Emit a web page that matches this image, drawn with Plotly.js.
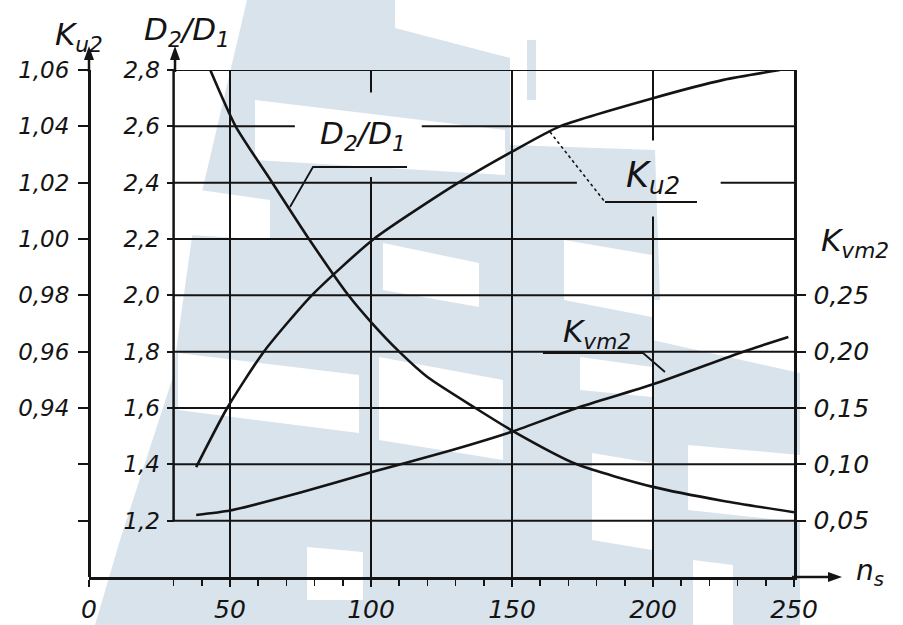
<!DOCTYPE html>
<html><head><meta charset="utf-8">
<script src="https://cdn.plot.ly/plotly-3.0.1.min.js"></script>
<style>html,body{margin:0;padding:0;background:#fff}</style>
</head><body><div id="chart" style="width:903px;height:625px"></div>
<script>
// ---- data ----
const nsD   = [43, 52, 65, 78, 92, 100, 110, 120, 137, 150, 173, 200, 225, 250];
const D2D1  = [2.80, 2.60, 2.40, 2.20, 2.00, 1.905, 1.80, 1.71, 1.60, 1.52, 1.40, 1.32, 1.27, 1.23];
const nsKu  = [38, 49, 62, 79, 101, 131, 150, 167, 200, 225, 245];
const Ku2   = [0.919, 0.94, 0.96, 0.98, 1.00, 1.02, 1.031, 1.04, 1.050, 1.0565, 1.06];
const nsKv  = [38, 50, 75, 100, 125, 150, 173, 200, 232, 248];
const Kvm2  = [0.055, 0.059, 0.075, 0.093, 0.110, 0.129, 0.150, 0.171, 0.200, 0.213];

const xTicks  = [0, 50, 100, 150, 200, 250];
const xMinor  = [30, 40, 60, 70, 80, 90, 110, 120, 130, 140, 160, 170, 180, 190, 210, 220, 230, 240];
const dTicks  = [1.2, 1.4, 1.6, 1.8, 2.0, 2.2, 2.4, 2.6, 2.8];
const kuTicks = [0.94, 0.96, 0.98, 1.00, 1.02, 1.04, 1.06];
const kuMinor = [0.90, 0.92];
const kvTicks = [0.05, 0.10, 0.15, 0.20, 0.25];
const gridX   = [50, 100, 150, 200];

// ---- styling ----
const W = 903, H = 625, L = 89, R = 109, T = 70, B = 48;
const pw = W - L - R, ph = H - T - B;
const px = x => (x - L) / pw, py = y => (H - B - y) / ph;
const ink = '#141414';
const F = s => ({family: 'DejaVu Sans', size: s, color: ink, style: 'italic'});
const comma = (v, d) => v.toFixed(d).replace('.', ',');

// gridline gaps (where hand-drawn lines were interrupted for labels)
const hSeg = {'2.6': [[30, 73], [118, 250]], '2.4': [[30, 173], [224, 250]]};
const vSeg = {'100': [[1.0, 2.42], [2.72, 2.8]], '200': [[1.0, 2.28], [2.55, 2.8]]};

const shapes = [];
const pathOf = (pts, close) => 'M' + pts.map(p => px(p[0]).toFixed(4) + ',' + py(p[1]).toFixed(4)).join('L') + (close ? 'Z' : '');
// watermark (light blue logo behind the scan)
const wm = '#d9e3ec';
const poly = (pts, color, layer) => shapes.push({
  type: 'path', xref: 'paper', yref: 'paper', layer: layer || 'below', fillcolor: color, line: {width: 0},
  path: pathOf(pts, true)
});
poly([[247,0],[395,0],[395,28],[510,58],[510,145],[655,150],[660,300],[800,300],[800,625],[95,625],[120,540],[172,380],[193,230]], wm);
poly([[527,40],[536,40],[536,100],[527,100]], wm);
const whites = [
  [[255,100],[505,130],[505,175],[255,160]],
  [[200,190],[270,200],[270,240],[190,235]],
  [[383,243],[479,263],[479,307],[383,290]],
  [[564,240],[652,255],[652,317],[564,300]],
  [[580,357],[652,367],[652,397],[580,390]],
  [[652,300],[800,300],[800,373],[652,340]],
  [[178,353],[359,375],[359,433],[178,410]],
  [[379,357],[503,380],[503,460],[379,440]],
  [[592,453],[652,463],[652,550],[592,540]],
  [[688,445],[800,455],[800,522],[688,510]],
  [[307,547],[363,552],[363,600],[307,600]],
  [[693,560],[733,565],[733,625],[693,625]]
];
whites.forEach(w => poly(w, '#ffffff'));

// grid
dTicks.forEach(d => {
  const segs = hSeg[d.toFixed(1)] || [[30, 250]];
  segs.forEach(s => shapes.push({type: 'line', xref: 'x', yref: 'y', x0: s[0], x1: s[1], y0: d, y1: d,
    layer: 'below', line: {color: ink, width: 2}}));
});
gridX.forEach(x => {
  const segs = vSeg[String(x)] || [[1.0, 2.8]];
  segs.forEach(s => shapes.push({type: 'line', xref: 'x', yref: 'y', x0: x, x1: x, y0: s[0], y1: s[1],
    layer: 'below', line: {color: ink, width: 2}}));
});
// D2/D1 axis line (from 1,2 upward)
shapes.push({type: 'line', xref: 'x', yref: 'y', x0: 30, x1: 30, y0: 1.2, y1: 2.8, layer: 'below', line: {color: ink, width: 2.5}});

// axis extensions with arrowheads (pixel layout helpers)
const seg = (pts, w, dash) => shapes.push({type: 'path', xref: 'paper', yref: 'paper', layer: 'above',
  line: {color: ink, width: w, dash: dash || 'solid'}, path: pathOf(pts, false)});
seg([[L, 72], [L, 52]], 2.5);
poly([[L, 46], [L - 5, 60], [L + 5, 60]], ink, 'above');
seg([[175, 72], [175, 52]], 2.5);
poly([[175, 46], [170, 60], [180, 60]], ink, 'above');
seg([[792, H - B], [832, H - B]], 2.5);
poly([[842, H - B], [828, H - B - 5], [828, H - B + 5]], ink, 'above');

// leader lines for curve labels
seg([[290,207],[313,167],[407,167]], 1.8);
seg([[550,132],[605,202]], 1.6, 'dot');
seg([[605,202],[697,202]], 1.8);
seg([[543,353],[643,353],[665,372]], 1.8);

const ann = [];
const txt = (x, y, t, s) => ann.push({xref: 'paper', yref: 'paper', x: px(x), y: py(y), text: t,
  showarrow: false, font: F(s), xanchor: 'center', yanchor: 'middle'});
txt(79, 36, 'K<sub>u2</sub>', 31);
txt(187, 31, 'D<sub>2</sub>/D<sub>1</sub>', 31);
txt(855, 243, 'K<sub>vm2</sub>', 31);
txt(870, 572, 'n<sub>s</sub>', 28);
txt(363, 135, 'D<sub>2</sub>/D<sub>1</sub>', 31);
txt(653, 177, 'K<sub>u2</sub>', 35);
txt(597, 333, 'K<sub>vm2</sub>', 31);

const line = {color: ink, width: 2.6, shape: 'spline', smoothing: 0.6};
const data = [
  {x: nsD, y: D2D1, type: 'scatter', mode: 'lines', line: line, yaxis: 'y', hoverinfo: 'skip', showlegend: false},
  {x: nsKu, y: Ku2, type: 'scatter', mode: 'lines', line: line, yaxis: 'y2', hoverinfo: 'skip', showlegend: false},
  {x: nsKv, y: Kvm2, type: 'scatter', mode: 'lines', line: line, yaxis: 'y3', hoverinfo: 'skip', showlegend: false}
];

const layout = {
  width: W, height: H, margin: {l: L, r: R, t: T, b: B, pad: 0},
  paper_bgcolor: '#ffffff', plot_bgcolor: 'rgba(0,0,0,0)', showlegend: false,
  xaxis: {range: [0, 250], tickmode: 'array', tickvals: xTicks, ticktext: xTicks.map(String),
    ticks: 'outside', ticklen: 7, tickwidth: 2, tickcolor: ink, showline: true, linewidth: 2.5, linecolor: ink,
    showgrid: false, zeroline: false, tickfont: F(25), ticklabelstandoff: 1,
    minor: {tickmode: 'array', tickvals: xMinor, ticks: 'outside', ticklen: 6, tickwidth: 1.5, tickcolor: ink, showgrid: false}},
  yaxis: {range: [1.0, 2.8], anchor: 'free', position: 30 / 250, tickmode: 'array', tickvals: dTicks,
    ticktext: dTicks.map(v => comma(v, 1)), ticks: 'outside', ticklen: 7, tickwidth: 2, tickcolor: ink,
    showline: false, showgrid: false, zeroline: false, tickfont: F(23), ticklabelstandoff: 2},
  yaxis2: {overlaying: 'y', range: [0.88, 1.06], anchor: 'free', position: 0, side: 'left', tickmode: 'array',
    tickvals: kuTicks, ticktext: kuTicks.map(v => comma(v, 2)), ticks: 'outside', ticklen: 10, tickwidth: 2, tickcolor: ink,
    showline: true, linewidth: 2.5, linecolor: ink, showgrid: false, zeroline: false, tickfont: F(23), ticklabelstandoff: 4,
    minor: {tickmode: 'array', tickvals: kuMinor, ticks: 'outside', ticklen: 10, tickwidth: 2, tickcolor: ink, showgrid: false}},
  yaxis3: {overlaying: 'y', range: [0, 0.45], anchor: 'x', side: 'right', tickmode: 'array',
    tickvals: kvTicks, ticktext: kvTicks.map(v => comma(v, 2)), ticks: 'outside', ticklen: 9, tickwidth: 2, tickcolor: ink,
    showline: true, linewidth: 2.5, linecolor: ink, showgrid: false, zeroline: false, tickfont: F(25), ticklabelstandoff: 3},
  shapes: shapes, annotations: ann
};
Plotly.newPlot('chart', data, layout, {staticPlot: true, displayModeBar: false});
</script></body></html>
